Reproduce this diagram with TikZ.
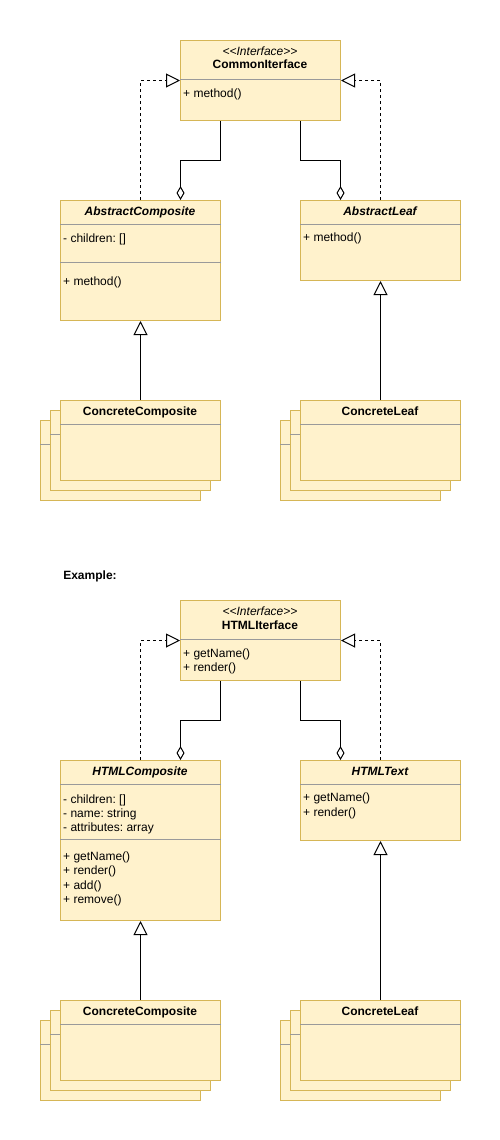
\documentclass[tikz,border=0pt]{standalone}
\usepackage{fontspec}
\setmainfont{Liberation Sans}
\usetikzlibrary{arrows.meta,calc}
\definecolor{boxfill}{HTML}{FFF2CC}
\definecolor{boxdraw}{HTML}{D6B656}
\definecolor{divider}{HTML}{9A9A9A}
\frenchspacing
\begin{document}
\begin{tikzpicture}[x=1pt,y=-1pt,font=\fontsize{12}{14}\selectfont,
  cls/.style={draw=boxdraw,fill=boxfill,line width=1pt,minimum width=160pt,anchor=north west,inner sep=0pt},
  div/.style={draw=divider,line width=1pt},
  txt/.style={anchor=base west,inner sep=0pt},
  ttl/.style={anchor=base,inner sep=0pt,font=\fontsize{12}{14}\selectfont\bfseries},
  ttli/.style={anchor=base,inner sep=0pt,font=\fontsize{12}{14}\selectfont\bfseries\itshape},
  stereo/.style={anchor=base,inner sep=0pt,font=\fontsize{12}{14}\selectfont\itshape},
  agg/.style={draw=black,line width=1pt,-{Diamond[length=14pt,width=8pt,fill=white,line width=1pt]}},
  real/.style={draw=black,line width=1pt,dash pattern=on 3pt off 3pt,-{Triangle[length=14pt,width=14pt,fill=white,line width=1pt]}},
  inh/.style={draw=black,line width=1pt,-{Triangle[length=14pt,width=14pt,fill=white,line width=1pt]}}
]
\useasboundingbox (0,0) rectangle (500,1140);

% ================= Top diagram =================
\node[cls,minimum height=80pt] (ci) at (180,40) {};
\draw[div] ($(ci.north west)+(0,39)$) -- ($(ci.north east)+(0,39)$);
\node[stereo] (ci-st) at (260,55.5) {{<}{<}Interface{>}{>}};
\node[ttl] (ci-t) at (260,69) {CommonIterface};
\node[txt] (ci-m1) at (183,97) {+ method()};

\node[cls,minimum height=120pt] (ac) at (60,200) {};
\draw[div] ($(ac.north west)+(0,24)$) -- ($(ac.north east)+(0,24)$);
\draw[div] ($(ac.north west)+(0,62)$) -- ($(ac.north east)+(0,62)$);
\node[ttli] (ac-t) at (140,215) {AbstractComposite};
\node[txt] (ac-a1) at (63,242.5) {- children: []};
\node[txt] (ac-m1) at (63,285) {+ method()};

\node[cls,minimum height=80pt] (al) at (300,200) {};
\draw[div] ($(al.north west)+(0,24)$) -- ($(al.north east)+(0,24)$);
\node[ttli] (al-t) at (380,215) {AbstractLeaf};
\node[txt] (al-m1) at (303,241.5) {+ method()};

% ConcreteComposite stack
\node[cls,minimum height=80pt] (cc3) at (40,420) {};
\draw[div] ($(cc3.north west)+(0,24)$) -- ($(cc3.north east)+(0,24)$);
\node[cls,minimum height=80pt] (cc2) at (50,410) {};
\draw[div] ($(cc2.north west)+(0,24)$) -- ($(cc2.north east)+(0,24)$);
\node[cls,minimum height=80pt] (cc) at (60,400) {};
\draw[div] ($(cc.north west)+(0,24)$) -- ($(cc.north east)+(0,24)$);
\node[ttl] (cc-t) at (140,415) {ConcreteComposite};

% ConcreteLeaf stack
\node[cls,minimum height=80pt] (cl3) at (280,420) {};
\draw[div] ($(cl3.north west)+(0,24)$) -- ($(cl3.north east)+(0,24)$);
\node[cls,minimum height=80pt] (cl2) at (290,410) {};
\draw[div] ($(cl2.north west)+(0,24)$) -- ($(cl2.north east)+(0,24)$);
\node[cls,minimum height=80pt] (cl) at (300,400) {};
\draw[div] ($(cl.north west)+(0,24)$) -- ($(cl.north east)+(0,24)$);
\node[ttl] (cl-t) at (380,415) {ConcreteLeaf};

% connectors
\draw[agg] ($(ci.south)+(-40,0)$) |- ($(ac.north)+(40,-40)$) -- ($(ac.north)+(40,0)$);
\draw[agg] ($(ci.south)+(40,0)$) |- ($(al.north)+(-40,-40)$) -- ($(al.north)+(-40,0)$);
\draw[real] (ac.north) |- (ci.west);
\draw[real] (al.north) |- (ci.east);
\draw[inh] (cc.north) -- (ac.south);
\draw[inh] (cl.north) -- (al.south);

% ================= Example =================
\node[ttl] (ex) at (90,579) {Example:};

\node[cls,minimum height=80pt] (hi) at (180,600) {};
\draw[div] ($(hi.north west)+(0,39)$) -- ($(hi.north east)+(0,39)$);
\node[stereo] (hi-st) at (260,615.5) {{<}{<}Interface{>}{>}};
\node[ttl] (hi-t) at (260,629) {HTMLIterface};
\node[txt] (hi-m1) at (183,657) {+ getName()};
\node[txt] (hi-m2) at (183,671.5) {+ render()};

\node[cls,minimum height=160pt] (hc) at (60,760) {};
\draw[div] ($(hc.north west)+(0,24)$) -- ($(hc.north east)+(0,24)$);
\draw[div] ($(hc.north west)+(0,79)$) -- ($(hc.north east)+(0,79)$);
\node[ttli] (hc-t) at (140,775) {HTMLComposite};
\node[txt] (hc-a1) at (63,803) {- children: []};
\node[txt] (hc-a2) at (63,817) {- name: string};
\node[txt] (hc-a3) at (63,831.5) {- attributes: array};
\node[txt] (hc-m1) at (63,860.5) {+ getName()};
\node[txt] (hc-m2) at (63,874.5) {+ render()};
\node[txt] (hc-m3) at (63,889) {+ add()};
\node[txt] (hc-m4) at (63,903) {+ remove()};

\node[cls,minimum height=80pt] (ht) at (300,760) {};
\draw[div] ($(ht.north west)+(0,24)$) -- ($(ht.north east)+(0,24)$);
\node[ttli] (ht-t) at (380,775) {HTMLText};
\node[txt] (ht-m1) at (303,801.5) {+ getName()};
\node[txt] (ht-m2) at (303,816) {+ render()};

% ConcreteComposite stack (example)
\node[cls,minimum height=80pt] (ec3) at (40,1020) {};
\draw[div] ($(ec3.north west)+(0,24)$) -- ($(ec3.north east)+(0,24)$);
\node[cls,minimum height=80pt] (ec2) at (50,1010) {};
\draw[div] ($(ec2.north west)+(0,24)$) -- ($(ec2.north east)+(0,24)$);
\node[cls,minimum height=80pt] (ec) at (60,1000) {};
\draw[div] ($(ec.north west)+(0,24)$) -- ($(ec.north east)+(0,24)$);
\node[ttl] (ec-t) at (140,1015) {ConcreteComposite};

% ConcreteLeaf stack (example)
\node[cls,minimum height=80pt] (el3) at (280,1020) {};
\draw[div] ($(el3.north west)+(0,24)$) -- ($(el3.north east)+(0,24)$);
\node[cls,minimum height=80pt] (el2) at (290,1010) {};
\draw[div] ($(el2.north west)+(0,24)$) -- ($(el2.north east)+(0,24)$);
\node[cls,minimum height=80pt] (el) at (300,1000) {};
\draw[div] ($(el.north west)+(0,24)$) -- ($(el.north east)+(0,24)$);
\node[ttl] (el-t) at (380,1015) {ConcreteLeaf};

% connectors (example)
\draw[agg] ($(hi.south)+(-40,0)$) |- ($(hc.north)+(40,-40)$) -- ($(hc.north)+(40,0)$);
\draw[agg] ($(hi.south)+(40,0)$) |- ($(ht.north)+(-40,-40)$) -- ($(ht.north)+(-40,0)$);
\draw[real] (hc.north) |- (hi.west);
\draw[real] (ht.north) |- (hi.east);
\draw[inh] (ec.north) -- (hc.south);
\draw[inh] (el.north) -- (ht.south);
\end{tikzpicture}
\end{document}
